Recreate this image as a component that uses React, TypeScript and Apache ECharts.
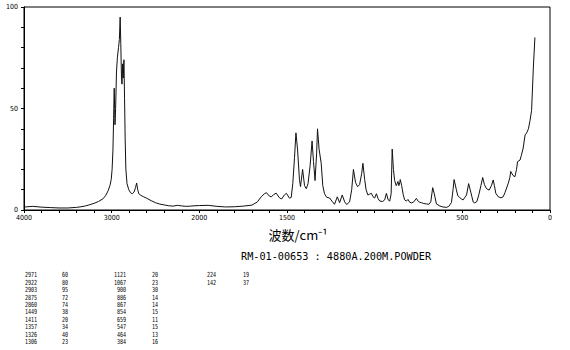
import React, { useEffect, useRef } from "react";
import * as echarts from "echarts";

// Raman spectrum trace (wavenumber cm^-1, intensity)
const wavenumbers = [
  3990, 3900, 3800, 3700, 3600, 3500, 3400, 3350, 3300, 3250, 3200, 3150, 3100, 3070, 3040, 3020, 3005, 2995, 2985, 2978,
  2971, 2966, 2962, 2955, 2945, 2935, 2922, 2912, 2903, 2896, 2888, 2882, 2875, 2868, 2860, 2853, 2846, 2838, 2825, 2805,
  2785, 2765, 2745, 2728, 2715, 2703, 2690, 2670, 2640, 2600, 2550, 2500, 2450, 2400, 2350, 2300, 2250, 2200, 2150, 2100,
  2050, 2000, 1950, 1900, 1850, 1800, 1750, 1700, 1669, 1647, 1629, 1617, 1600, 1590, 1577, 1562, 1543, 1531, 1514, 1503,
  1486, 1476, 1467, 1457, 1449, 1440, 1429, 1423, 1411, 1400, 1390, 1380, 1368, 1357, 1349, 1340, 1331, 1326, 1317, 1305,
  1296, 1286, 1274, 1257, 1240, 1229, 1213, 1200, 1185, 1171, 1160, 1143, 1131, 1121, 1109, 1097, 1086, 1074, 1067, 1057,
  1049, 1039, 1029, 1019, 1009, 1000, 990, 980, 971, 954, 943, 933, 923, 914, 906, 900, 893, 886, 877, 867,
  862, 857, 854, 846, 837, 829, 819, 810, 800, 789, 777, 762, 751, 743, 733, 720, 705, 691, 680, 669,
  660, 648, 629, 611, 590, 577, 562, 553, 547, 534, 526, 517, 506, 495, 486, 476, 464, 451, 438, 429,
  417, 406, 394, 384, 374, 362, 347, 334, 324, 317, 309, 295, 280, 267, 257, 238, 229, 224, 211, 200,
  191, 185, 171, 163, 153, 142, 133, 123, 114, 105, 95, 86,
];
const intensities = [
  1.5, 1.8, 1.4, 1.2, 1.0, 1.0, 1.3, 1.6, 2.0, 2.6, 3.3, 4.2, 5.5, 7, 9.5, 12, 15, 20, 30, 45,
  60, 50, 42, 50, 68, 75, 80, 84, 95, 82, 65, 62, 72, 65, 74, 55, 35, 20, 13, 10,
  8.5, 8, 8.8, 11, 13.3, 10, 8, 7.3, 6.6, 5.8, 4.6, 3.6, 2.9, 2.5, 2.1, 1.9, 2.3, 2.0, 1.8, 1.9,
  2.1, 2.2, 2.3, 1.8, 1.5, 1.6, 1.9, 2.4, 4, 6.5, 8, 8.5, 6.8, 6.5, 7.5, 8.3, 6, 5.4, 7.5, 8.2,
  5.8, 6.2, 13, 26, 38, 30, 15, 11.5, 20, 12, 10.5, 13, 22, 34, 24, 14.5, 28, 40, 30, 23,
  12, 8, 6.3, 5.9, 4, 2.8, 6.5, 3.6, 7.4, 4, 2.7, 4, 10, 20, 13.5, 11.5, 12.5, 18, 23, 15,
  10, 7.4, 7.8, 8.2, 6.5, 5.9, 8, 5.5, 4.4, 4.2, 5, 8.2, 5, 4.4, 8, 30, 20, 14.5, 12, 14,
  12, 13.5, 15, 12, 7.5, 5, 4.4, 5.2, 3.8, 3.5, 4, 5.7, 4.2, 3.8, 3.6, 3.2, 3, 2.8, 4, 11,
  8, 3, 2, 1.5, 1.3, 1.8, 3.7, 10, 15, 10, 7, 6.4, 5.4, 5, 6.2, 7.4, 13, 8.5, 3.9, 3.5,
  4.2, 7.5, 12, 16, 12.5, 10.5, 9.8, 12, 14.8, 12, 8.2, 6.5, 6, 6.5, 8.5, 13.2, 16, 19, 17, 16.4,
  20, 23.8, 24.6, 27, 30.5, 37, 38, 40, 44, 49, 70, 85,
];

const xTickLabels = [4000, 3000, 2000, 1500, 500, 0];
const yTickLabels = [0, 50, 100];

const xAxisName = "波数/cm⁻¹";
const sampleTitle = "RM-01-00653 : 4880A.200M.POWDER";

const peakWavenumbers = [
  2971, 2922, 2903, 2875, 2860, 1449, 1411, 1357, 1326, 1306,
  1121, 1067, 900, 886, 867, 854, 659, 547, 464, 384,
  224, 142,
];
const peakIntensities = [
  60, 80, 95, 72, 74, 38, 20, 34, 40, 23,
  20, 23, 30, 14, 14, 15, 11, 15, 13, 16,
  19, 37,
];

// split axis: 4000-2000 at half scale, 2000-0 at full scale
const toAxis = (v: number) => (v >= 2000 ? (4000 - v) / 2 : 1000 + (2000 - v));
const fromAxis = (u: number) => (u <= 1000 ? 4000 - 2 * u : 2000 - (u - 1000));

const tickFont = "'Liberation Sans Narrow', 'DejaVu Sans Condensed', 'Liberation Sans', sans-serif";

export default function App() {
  const ref = useRef<HTMLDivElement>(null);
  useEffect(() => {
    document.body.style.margin = "0";
    if (!ref.current) return;
    const chart = echarts.init(ref.current, undefined, { renderer: "svg" });

    const tableTexts: any[] = [];
    const rowsPerCol = 10;
    const colDefs = [
      { x: 25, align: "left" },
      { x: 126, align: "right" },
      { x: 207, align: "left" },
    ];
    const intenX = [62, 152, 243];
    peakWavenumbers.forEach((w, i) => {
      const col = Math.floor(i / rowsPerCol);
      const row = i % rowsPerCol;
      const y = 274.5 + row * 7.4;
      tableTexts.push({
        type: "text",
        x: colDefs[col].x,
        y,
        scaleX: 0.72,
        style: {
          text: String(w),
          font: "7px 'DejaVu Sans Mono', monospace",
          fill: "#000",
          textAlign: colDefs[col].align,
          textVerticalAlign: "middle",
        },
      });
      tableTexts.push({
        type: "text",
        x: intenX[col],
        y,
        scaleX: 0.72,
        style: {
          text: String(peakIntensities[i]),
          font: "7px 'DejaVu Sans Mono', monospace",
          fill: "#000",
          textAlign: "left",
          textVerticalAlign: "middle",
        },
      });
    });

    chart.setOption({
      animation: false,
      backgroundColor: "#fff",
      grid: {
        left: 24,
        right: 20,
        top: 7,
        bottom: 140,
        show: true,
        borderColor: "#000",
        borderWidth: 1,
        backgroundColor: "transparent",
      },
      xAxis: {
        type: "value",
        min: 0,
        max: 3000,
        interval: 100,
        axisLine: { show: true, onZero: false, lineStyle: { color: "#000", width: 1 } },
        axisTick: { show: true, length: 3, lineStyle: { color: "#000" } },
        splitLine: { show: false },
        axisLabel: {
          margin: 4,
          fontSize: 7,
          fontFamily: tickFont,
          color: "#000",
          showMinLabel: true,
          showMaxLabel: true,
          formatter: (val: number) => {
            const v = Math.round(fromAxis(val));
            return xTickLabels.includes(v) ? String(v) : "";
          },
        },
      },
      yAxis: {
        type: "value",
        min: 0,
        max: 100,
        interval: 10,
        axisLine: { show: true, lineStyle: { color: "#000", width: 1 } },
        axisTick: { show: true, length: 3, lineStyle: { color: "#000" } },
        splitLine: { show: false },
        axisLabel: {
          margin: 6,
          fontSize: 7,
          fontFamily: tickFont,
          color: "#000",
          formatter: (val: number) => (yTickLabels.includes(val) ? String(val) : ""),
        },
      },
      series: [
        {
          type: "line",
          data: wavenumbers.map((v, i) => [toAxis(v), intensities[i]]),
          showSymbol: false,
          symbol: "none",
          lineStyle: { color: "#111", width: 1 },
          silent: true,
        },
      ],
      graphic: [
        {
          type: "text",
          x: 298,
          y: 234,
          style: {
            text: xAxisName,
            font: "13px 'Noto Sans CJK JP', sans-serif",
            fill: "#000",
            textAlign: "center",
            textVerticalAlign: "middle",
          },
        },
        {
          type: "text",
          x: 241,
          y: 256,
          style: {
            text: sampleTitle,
            font: "10.2px 'DejaVu Sans Mono', monospace",
            fill: "#000",
            textAlign: "left",
            textVerticalAlign: "middle",
          },
        },
        ...tableTexts,
      ],
    });
    return () => chart.dispose();
  }, []);
  return <div ref={ref} style={{ width: 570, height: 350 }} />;
}
